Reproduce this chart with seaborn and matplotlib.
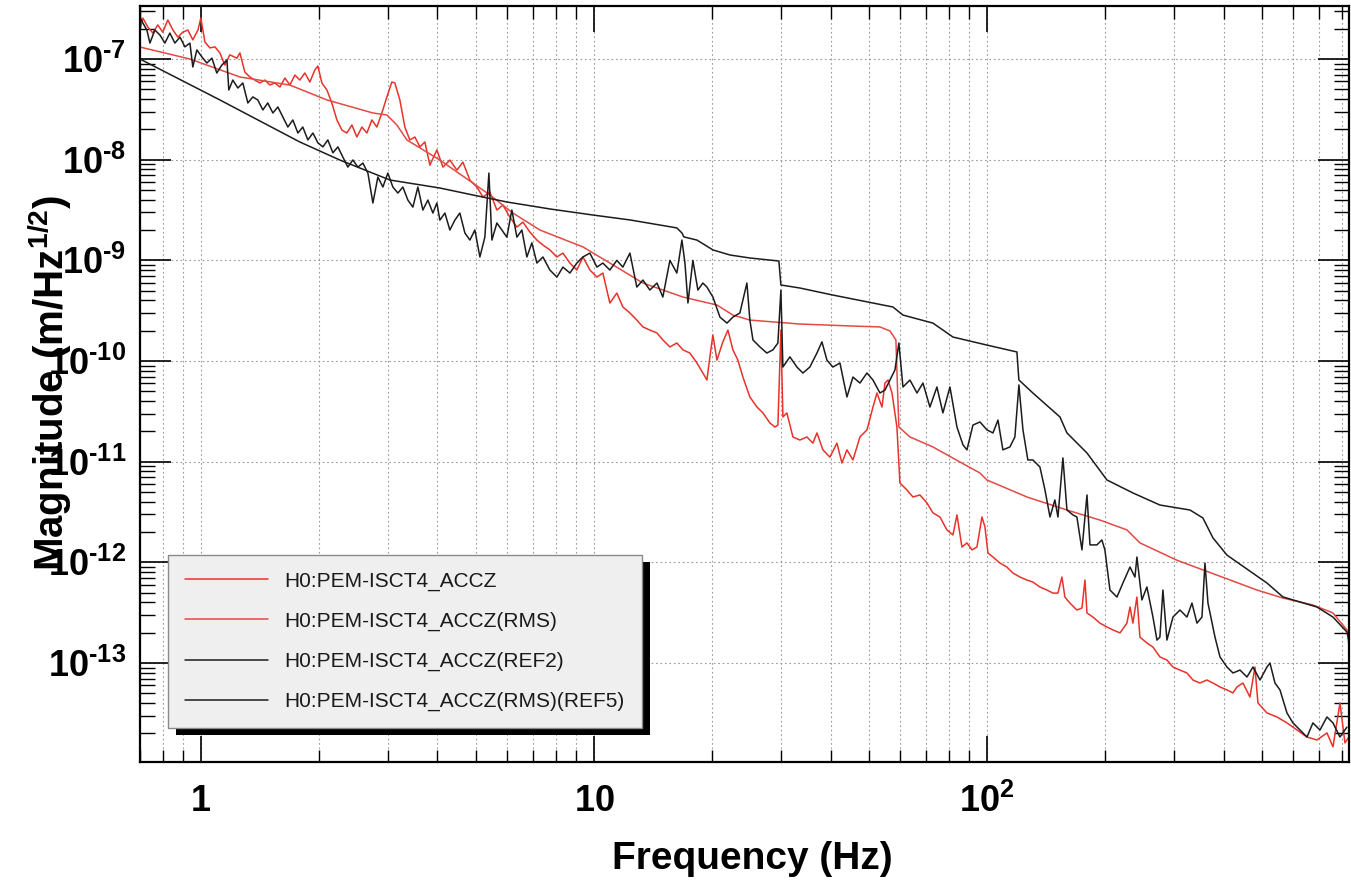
import numpy as np
import pandas as pd
import matplotlib
matplotlib.use("Agg")
import matplotlib.pyplot as plt
import seaborn as sns
from matplotlib.patches import Rectangle
from matplotlib.transforms import IdentityTransform
from matplotlib.ticker import LogLocator, NullFormatter

# ---------------- data ----------------
series_labels = ["H0:PEM-ISCT4_ACCZ", "H0:PEM-ISCT4_ACCZ(RMS)",
                 "H0:PEM-ISCT4_ACCZ(REF2)", "H0:PEM-ISCT4_ACCZ(RMS)(REF5)"]

asd_f = [0.700, 0.712, 0.733, 0.755, 0.777, 0.800, 0.824, 0.849, 0.874, 0.900,
         0.927, 0.954, 0.983, 1.000, 1.024, 1.054, 1.086, 1.118, 1.151, 1.185,
         1.235, 1.257, 1.294, 1.333, 1.372, 1.413, 1.455, 1.498, 1.543, 1.589,
         1.636, 1.685, 1.735, 1.786, 1.839, 1.894, 1.950, 1.985, 2.032, 2.093,
         2.154, 2.219, 2.285, 2.352, 2.423, 2.494, 2.569, 2.645, 2.724, 2.804,
         2.888, 2.974, 3.062, 3.116, 3.209, 3.304, 3.402, 3.504, 3.609, 3.715,
         3.826, 3.986, 4.130, 4.301, 4.482, 4.642, 4.836, 5.039, 5.221, 5.437,
         5.665, 5.868, 6.113, 6.370, 6.598, 6.873, 7.161, 7.418, 7.727, 8.052,
         8.341, 8.690, 9.05, 9.38, 9.77, 10.18, 10.54, 10.98, 11.44, 11.85,
         12.35, 12.86, 13.33, 13.88, 14.47, 14.98, 15.61, 16.26, 16.85, 17.55,
         18.29, 18.94, 19.39, 19.73, 20.08, 20.56, 21.29, 21.93, 22.58, 23.25,
         23.94, 24.94, 26.00, 26.92, 28.05, 28.88, 29.39, 29.91, 30.26, 30.98,
         32.09, 33.43, 34.83, 36.08, 36.94, 38.26, 39.86, 41.53, 42.76, 44.04,
         45.62, 47.53, 49.52, 51.30, 52.51, 54.08, 55.03, 56.01, 57.34, 59.02,
         60.07, 62.57, 64.82, 67.53, 70.36, 72.89, 75.94, 79.11, 81.95, 83.90,
         86.39, 88.96, 91.59, 94.32, 97.12, 98.84, 100.6, 103.6, 107.9, 112.4,
         116.5, 121.4, 126.4, 130.9, 136.4, 142.1, 147.2, 151.6, 155.2, 157.9,
         162.6, 169.4, 174.5, 177.6, 179.7, 186.1, 193.9, 202.0, 209.3, 218.1,
         227.1, 231.2, 235.2, 240.8, 245.1, 255.3, 264.5, 275.5, 287.1, 297.4,
         309.8, 322.8, 334.3, 348.3, 362.9, 375.9, 391.7, 408.1, 422.7, 432.7,
         448.1, 466.9, 480.8, 489.3, 515.8, 547.0, 580.0, 615.0, 652.1, 691.3,
         733.1, 759.4, 791.1, 814.6, 833.9]
asd_v = [1.94e-7, 2.55e-7, 2.08e-7, 1.81e-7, 2.18e-7, 1.85e-7, 2.44e-7, 1.94e-7, 1.65e-7, 1.85e-7,
         1.94e-7, 1.55e-7, 1.94e-7, 2.55e-7, 1.48e-7, 1.29e-7, 1.32e-7, 1.15e-7, 8.71e-8, 1.10e-7,
         1.02e-7, 1.15e-7, 7.43e-8, 6.62e-8, 6.18e-8, 5.78e-8, 6.18e-8, 5.52e-8, 5.78e-8, 5.27e-8,
         6.47e-8, 5.52e-8, 6.93e-8, 6.18e-8, 7.26e-8, 5.91e-8, 7.78e-8, 8.51e-8, 5.78e-8, 4.92e-8,
         3.66e-8, 2.48e-8, 1.97e-8, 1.84e-8, 2.21e-8, 1.68e-8, 2.11e-8, 1.84e-8, 2.48e-8, 2.11e-8,
         2.91e-8, 4.20e-8, 5.91e-8, 5.78e-8, 3.92e-8, 2.11e-8, 1.57e-8, 1.68e-8, 1.34e-8, 1.50e-8,
         8.83e-9, 1.25e-8, 8.44e-9, 9.91e-9, 7.88e-9, 9.46e-9, 6.27e-9, 5.35e-9, 4.25e-9, 4.77e-9,
         3.16e-9, 3.54e-9, 2.69e-9, 2.14e-9, 2.40e-9, 1.91e-9, 1.59e-9, 1.42e-9, 1.27e-9, 1.08e-9,
         1.18e-9, 9.40e-10, 8.01e-10, 1.08e-9, 8.01e-10, 6.82e-10, 7.48e-10, 3.77e-10, 4.73e-10, 3.44e-10,
         3.00e-10, 2.55e-10, 2.18e-10, 2.03e-10, 1.90e-10, 1.62e-10, 1.38e-10, 1.51e-10, 1.29e-10, 1.20e-10,
         9.55e-11, 7.60e-11, 6.47e-11, 1.10e-10, 1.81e-10, 1.02e-10, 1.55e-10, 2.03e-10, 1.29e-10, 1.02e-10,
         6.93e-11, 4.39e-11, 3.49e-11, 3.05e-11, 2.42e-11, 2.21e-11, 2.31e-11, 2.03e-10, 2.78e-11, 3.05e-11,
         1.76e-11, 1.64e-11, 1.76e-11, 1.53e-11, 1.93e-11, 1.31e-11, 1.11e-11, 1.53e-11, 9.70e-12, 1.31e-11,
         1.04e-11, 1.76e-11, 2.07e-11, 3.49e-11, 4.81e-11, 3.49e-11, 6.04e-11, 6.47e-11, 4.81e-11, 2.21e-11,
         6.14e-12, 5.24e-12, 4.46e-12, 4.67e-12, 3.89e-12, 3.10e-12, 2.82e-12, 2.10e-12, 1.87e-12, 2.96e-12,
         1.42e-12, 1.56e-12, 1.33e-12, 1.42e-12, 2.82e-12, 2.25e-12, 1.24e-12, 1.13e-12, 9.84e-13, 8.98e-13,
         7.83e-13, 7.14e-13, 6.67e-13, 6.37e-13, 5.69e-13, 5.31e-13, 4.95e-13, 4.95e-13, 7.14e-13, 4.52e-13,
         3.94e-13, 3.36e-13, 3.52e-13, 6.67e-13, 3.14e-13, 2.86e-13, 2.49e-13, 2.28e-13, 2.13e-13, 1.99e-13,
         2.49e-13, 3.60e-13, 2.49e-13, 4.52e-13, 1.81e-13, 1.58e-13, 1.44e-13, 1.15e-13, 1.07e-13, 9.12e-14,
         8.51e-14, 7.96e-14, 6.78e-14, 6.33e-14, 6.78e-14, 6.33e-14, 5.78e-14, 5.40e-14, 5.04e-14, 5.78e-14,
         6.33e-14, 4.59e-14, 9.12e-14, 4.01e-14, 3.19e-14, 2.91e-14, 2.54e-14, 2.16e-14, 1.84e-14, 1.72e-14,
         2.02e-14, 1.47e-14, 4.01e-14, 1.61e-14, 1.84e-14]

rms_f = [0.700, 0.938, 1.257, 1.685, 2.093, 2.740, 2.974, 3.153, 3.344, 4.056,
         4.921, 5.437, 6.222, 7.290, 9.376, 10.98, 13.33, 16.85, 20.56, 22.58,
         24.95, 33.43, 44.82, 53.42, 56.65, 58.67, 59.36, 59.71, 63.70, 72.89,
         85.37, 95.98, 100.0, 126.4, 159.8, 193.9, 227.1, 245.1, 304.4, 486.4,
         566.5, 675.2, 759.4, 824.1, 833.9]
rms_v = [1.315e-7, 1.00e-7, 6.63e-8, 5.51e-8, 3.92e-8, 2.91e-8, 2.78e-8, 2.21e-8, 1.57e-8, 9.92e-9,
         5.86e-9, 4.46e-9, 2.95e-9, 2.00e-9, 1.36e-9, 9.41e-10, 5.95e-10, 4.32e-10, 3.60e-10, 2.86e-10,
         2.55e-10, 2.33e-10, 2.23e-10, 2.18e-10, 1.99e-10, 1.62e-10, 4.10e-11, 2.21e-11, 1.76e-11, 1.40e-11,
         9.93e-12, 7.72e-12, 6.58e-12, 4.46e-12, 3.31e-12, 2.63e-12, 2.10e-12, 1.56e-12, 1.05e-12, 5.31e-13,
         4.42e-13, 3.77e-13, 3.14e-13, 2.13e-13, 1.51e-13]

ref_asd_f = [0.700, 0.712, 0.729, 0.742, 0.764, 0.787, 0.810, 0.834, 0.859, 0.885,
             0.911, 0.938, 0.954, 0.977, 1.006, 1.036, 1.067, 1.098, 1.131, 1.165,
             1.178, 1.206, 1.242, 1.279, 1.317, 1.356, 1.396, 1.438, 1.480, 1.525,
             1.570, 1.617, 1.665, 1.714, 1.766, 1.817, 1.872, 1.928, 1.985, 2.044,
             2.104, 2.168, 2.232, 2.298, 2.366, 2.437, 2.509, 2.584, 2.661, 2.740,
             2.821, 2.905, 2.991, 3.080, 3.172, 3.266, 3.363, 3.463, 3.566, 3.672,
             3.781, 3.894, 3.986, 4.056, 4.178, 4.301, 4.429, 4.560, 4.697, 4.836,
             4.980, 5.128, 5.280, 5.406, 5.502, 5.665, 5.833, 6.006, 6.184, 6.370,
             6.558, 6.753, 6.954, 7.161, 7.418, 7.727, 8.052, 8.341, 8.690, 9.050,
             9.376, 9.768, 10.18, 10.54, 10.98, 11.44, 11.85, 12.35, 12.86, 13.33,
             13.88, 14.47, 14.98, 15.61, 16.26, 16.75, 17.05, 17.35, 17.86, 18.39,
             18.94, 19.39, 20.08, 20.93, 21.81, 22.58, 23.52, 24.51, 24.94, 25.39,
             26.45, 27.55, 28.54, 29.39, 29.91, 30.26, 31.53, 32.85, 34.02, 35.44,
             36.94, 38.04, 39.17, 40.56, 42.27, 44.04, 45.62, 47.53, 49.52, 51.30,
             53.44, 55.03, 56.66, 58.34, 59.71, 61.14, 63.70, 66.38, 68.74, 71.61,
             74.61, 77.27, 80.52, 83.90, 86.90, 88.96, 92.13, 96.0, 100.0, 103.6,
             106.7, 109.8, 114.4, 117.8, 120.6, 123.5, 127.1, 130.9, 136.4, 140.5,
             144.7, 148.9, 151.6, 156.1, 159.8, 165.5, 169.4, 174.5, 179.7, 182.9,
             190.5, 196.1, 199.6, 205.6, 214.2, 221.8, 231.2, 238.0, 240.8, 247.9,
             255.3, 264.5, 270.8, 275.5, 280.4, 287.1, 297.4, 309.8, 322.8, 332.4,
             342.3, 352.5, 358.7, 365.1, 380.4, 391.7, 408.1, 422.7, 440.5, 458.8,
             475.3, 495.2, 515.8, 525.0, 540.6, 556.7, 580.0, 600.7, 625.8, 652.1,
             675.2, 703.6, 733.1, 759.4, 791.1, 824.1]
ref_asd_v = [2.61e-7, 2.28e-7, 1.94e-7, 1.44e-7, 1.94e-7, 1.73e-7, 1.44e-7, 1.81e-7, 1.44e-7, 1.65e-7,
             1.32e-7, 1.44e-7, 8.33e-8, 1.23e-7, 1.05e-7, 9.12e-8, 1.02e-7, 7.26e-8, 8.71e-8, 9.77e-8,
             4.92e-8, 6.18e-8, 5.15e-8, 5.78e-8, 3.66e-8, 4.20e-8, 3.92e-8, 3.12e-8, 3.66e-8, 2.91e-8,
             3.34e-8, 2.65e-8, 2.11e-8, 2.48e-8, 1.84e-8, 2.11e-8, 1.57e-8, 1.84e-8, 1.47e-8, 1.34e-8,
             1.57e-8, 1.17e-8, 1.34e-8, 1.06e-8, 8.44e-9, 9.93e-9, 8.44e-9, 9.25e-9, 7.36e-9, 3.71e-9,
             6.72e-9, 5.35e-9, 7.36e-9, 5.35e-9, 4.66e-9, 5.35e-9, 3.97e-9, 3.38e-9, 5.35e-9, 3.16e-9,
             3.97e-9, 2.95e-9, 3.71e-9, 2.51e-9, 2.95e-9, 2.00e-9, 2.51e-9, 2.95e-9, 1.87e-9, 1.59e-9,
             2.00e-9, 1.08e-9, 1.70e-9, 7.36e-9, 1.59e-9, 2.35e-9, 2.00e-9, 1.70e-9, 3.16e-9, 1.70e-9,
             2.00e-9, 1.08e-9, 1.49e-9, 9.40e-10, 1.08e-9, 8.01e-10, 6.82e-10, 8.57e-10, 7.48e-10, 9.40e-10,
             1.08e-9, 1.18e-9, 8.57e-10, 9.40e-10, 8.01e-10, 1.00e-9, 8.57e-10, 1.18e-9, 5.43e-10, 6.37e-10,
             5.07e-10, 5.95e-10, 4.32e-10, 1.00e-9, 7.48e-10, 1.59e-9, 9.40e-10, 3.77e-10, 1.00e-9, 5.07e-10,
             5.95e-10, 5.43e-10, 4.32e-10, 2.73e-10, 2.38e-10, 2.73e-10, 3.00e-10, 5.95e-10, 2.55e-10, 1.62e-10,
             1.38e-10, 1.20e-10, 1.29e-10, 1.51e-10, 5.07e-10, 8.71e-11, 1.10e-10, 8.71e-11, 7.60e-11, 8.71e-11,
             1.20e-10, 1.55e-10, 1.02e-10, 8.71e-11, 9.55e-11, 4.39e-11, 6.93e-11, 6.04e-11, 7.60e-11, 6.47e-11,
             4.81e-11, 5.15e-11, 6.47e-11, 8.14e-11, 1.51e-10, 5.52e-11, 6.47e-11, 4.81e-11, 6.04e-11, 3.49e-11,
             5.52e-11, 3.05e-11, 5.52e-11, 2.21e-11, 1.47e-11, 1.31e-11, 2.31e-11, 2.48e-11, 2.07e-11, 1.93e-11,
             2.59e-11, 1.31e-11, 1.40e-11, 1.76e-11, 5.78e-11, 2.07e-11, 1.04e-11, 1.04e-11, 8.86e-12, 5.24e-12,
             2.82e-12, 4.17e-12, 2.82e-12, 1.09e-11, 3.31e-12, 2.96e-12, 2.82e-12, 1.33e-12, 4.67e-12, 1.49e-12,
             1.49e-12, 1.67e-12, 1.33e-12, 5.31e-13, 4.52e-13, 6.23e-13, 8.98e-13, 7.14e-13, 1.13e-12, 4.23e-13,
             5.69e-13, 2.86e-13, 1.69e-13, 1.81e-13, 5.31e-13, 1.69e-13, 2.86e-13, 3.36e-13, 2.86e-13, 3.94e-13,
             2.49e-13, 2.86e-13, 9.84e-13, 3.94e-13, 1.81e-13, 1.15e-13, 9.12e-14, 7.96e-14, 8.51e-14, 7.26e-14,
             9.12e-14, 6.78e-14, 9.12e-14, 1.00e-13, 6.33e-14, 5.40e-14, 3.19e-14, 2.54e-14, 2.16e-14, 1.84e-14,
             2.54e-14, 2.16e-14, 2.91e-14, 2.54e-14, 1.84e-14, 2.31e-14]

ref_rms_f = [0.700, 1.118, 1.786, 2.258, 3.027, 4.056, 4.921, 6.005, 7.727, 9.94,
             12.35, 16.26, 16.75, 16.94, 18.29, 20.08, 22.19, 24.95, 29.56, 29.91,
             33.43, 40.56, 57.66, 61.14, 72.89, 81.95, 100.0, 119.2, 120.6, 130.9,
             153.4, 159.8, 179.7, 202.0, 235.2, 275.5, 328.6, 354.4, 375.9, 408.1,
             515.8, 566.5, 691.3, 759.4, 824.1, 833.9]
ref_rms_v = [1.00e-7, 3.92e-8, 1.498e-8, 9.92e-9, 6.28e-9, 5.23e-9, 4.46e-9, 3.80e-9, 3.24e-9, 2.82e-9,
             2.52e-9, 2.10e-9, 1.87e-9, 1.71e-9, 1.59e-9, 1.27e-9, 1.13e-9, 1.055e-9, 9.85e-10, 5.69e-10,
             5.31e-10, 4.52e-10, 3.44e-10, 2.86e-10, 2.38e-10, 1.73e-10, 1.44e-10, 1.23e-10, 6.48e-11, 4.81e-11,
             2.78e-11, 1.93e-11, 1.22e-11, 6.58e-12, 4.89e-12, 3.71e-12, 3.31e-12, 2.76e-12, 1.75e-12, 1.18e-12,
             6.23e-13, 4.53e-13, 3.60e-13, 2.86e-13, 2.03e-13, 1.69e-13]

x_tick_vals = [1, 10, 100]
x_tick_labels = [r"$1$", r"$10$", r"$10^{2}$"]
y_tick_vals = [1e-13, 1e-12, 1e-11, 1e-10, 1e-9, 1e-8, 1e-7]
y_tick_labels = [r"$10^{\text{-}13}$", r"$10^{\text{-}12}$", r"$10^{\text{-}11}$",
                 r"$10^{\text{-}10}$", r"$10^{\text{-}9}$", r"$10^{\text{-}8}$",
                 r"$10^{\text{-}7}$"]

# ---------------- style ----------------
sns.set_style("ticks")
plt.rcParams.update({
    "font.family": ["Liberation Sans", "DejaVu Sans"],
    "text.color": "black",
    "axes.labelcolor": "black",
    "xtick.color": "black",
    "ytick.color": "black",
    "mathtext.fontset": "custom",
    "mathtext.rm": "Liberation Sans:bold",
    "mathtext.it": "Liberation Sans:italic",
    "mathtext.bf": "Liberation Sans:bold",
    "mathtext.sf": "Liberation Sans",
    "mathtext.default": "bf",
})

fig = plt.figure(figsize=(13.51, 8.86), dpi=100)
ax = fig.add_axes([0.1036, 0.1400, 0.8949, 0.8532])

colors = ["#e8322a", "#e24a44", "#1c1c1c", "#1c1c1c"]
frames = [
    pd.DataFrame({"f": asd_f, "v": asd_v}),
    pd.DataFrame({"f": rms_f, "v": rms_v}),
    pd.DataFrame({"f": ref_asd_f, "v": ref_asd_v}),
    pd.DataFrame({"f": ref_rms_f, "v": ref_rms_v}),
]
for df, c, lab in zip(frames, colors, series_labels):
    sns.lineplot(data=df, x="f", y="v", ax=ax, color=c, lw=1.1,
                 sort=False, estimator=None, label=lab)

ax.set_xscale("log")
ax.set_yscale("log")
ax.set_xlim(0.70, 834)
ax.set_ylim(1.04e-14, 3.36e-7)

ax.set_xticks(x_tick_vals, labels=x_tick_labels)
ax.set_yticks(y_tick_vals, labels=y_tick_labels)
ax.xaxis.set_minor_locator(LogLocator(base=10, subs=np.arange(2, 10), numticks=100))
ax.yaxis.set_minor_locator(LogLocator(base=10, subs=np.arange(2, 10), numticks=100))
ax.xaxis.set_minor_formatter(NullFormatter())
ax.yaxis.set_minor_formatter(NullFormatter())

ax.set_xlabel("")
ax.set_ylabel("")

ax.tick_params(axis="both", which="both", direction="in", top=True, right=True, colors="black")
ax.tick_params(axis="x", which="major", length=19, width=1.2, pad=16, labelsize=26)
ax.tick_params(axis="x", which="minor", length=9, width=1.0)
ax.tick_params(axis="y", which="major", length=22, width=1.2, pad=10, labelsize=26)
ax.tick_params(axis="y", which="minor", length=11, width=1.0)

for s in ax.spines.values():
    s.set_linewidth(1.6)
    s.set_color("black")

ax.set_axisbelow(True)
grid_kw = dict(color="#9a9a9a", linestyle=(0, (1.5, 2.5)), linewidth=0.8)
ax.grid(True, which="both", axis="x", **grid_kw)
ax.grid(True, which="major", axis="y", **grid_kw)

leg = ax.legend(loc="upper left", bbox_to_anchor=(0.0232, 0.2738), borderaxespad=0,
                fontsize=15, handlelength=4.0, handletextpad=0.8, labelspacing=1.0,
                borderpad=0.8, frameon=True, fancybox=False, framealpha=1.0)
leg.get_frame().set_facecolor("#efefef")
leg.get_frame().set_edgecolor("#8a8a8a")
leg.get_frame().set_linewidth(1.0)
for t in leg.get_texts():
    t.set_color("#1a1a1a")
leg.set_zorder(6)

fig.text(0.5566, 0.0305, "Frequency (Hz)", fontsize=28, fontweight="bold",
         ha="center", va="center", color="black")
fig.text(0.037, 0.568, r"Magnitude (m/Hz$^{1/2}$)", fontsize=29, fontweight="bold",
         rotation=90, ha="center", va="center", color="black")

fig.canvas.draw()
bb = leg.get_window_extent()
shadow = Rectangle((bb.x0 + 8, bb.y0 - 7), bb.width, bb.height,
                   transform=IdentityTransform(), facecolor="black",
                   edgecolor="none", zorder=5.5, clip_on=False)
ax.add_artist(shadow)

fig.savefig("out.png", dpi=100)
